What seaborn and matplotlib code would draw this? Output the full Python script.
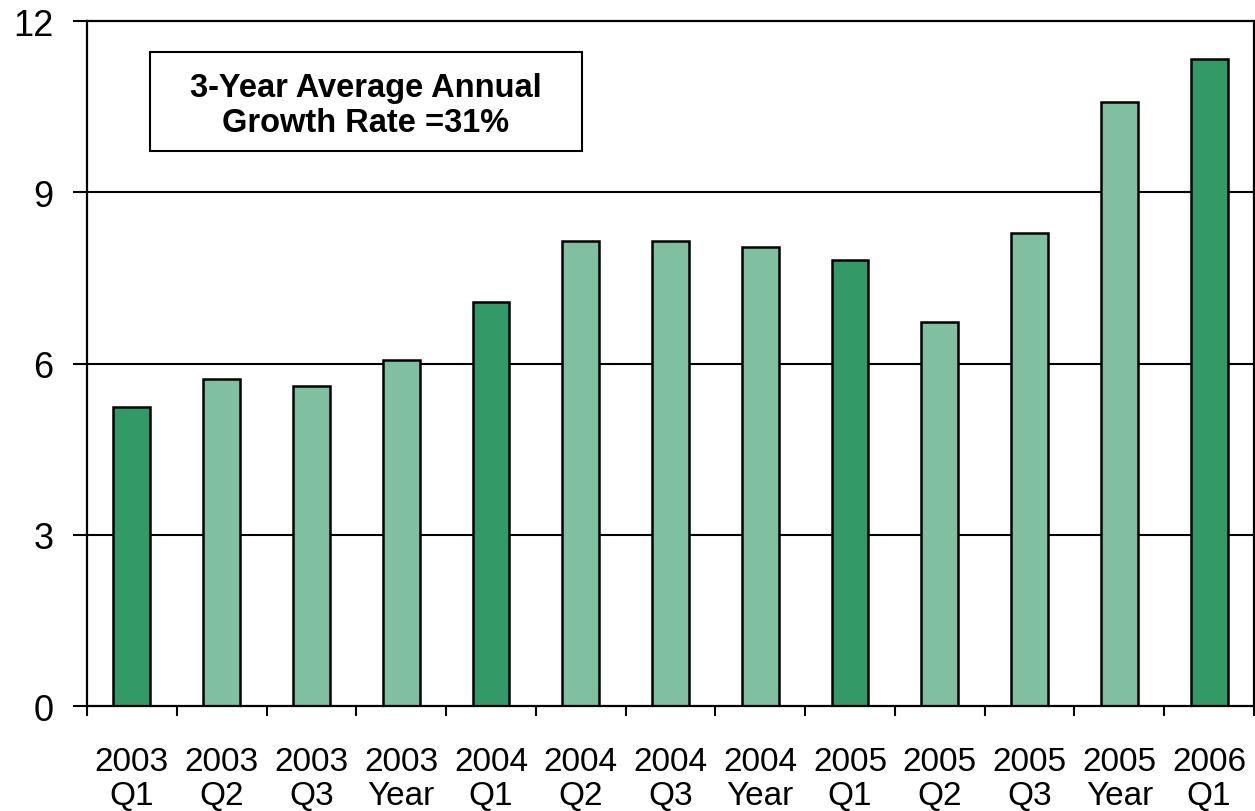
import matplotlib
matplotlib.use("Agg")
import matplotlib.pyplot as plt
from matplotlib.patches import Rectangle
import seaborn as sns
import pandas as pd
import numpy as np

# Quarterly / annual figures
periods = ["2003\nQ1", "2003\nQ2", "2003\nQ3", "2003\nYear",
           "2004\nQ1", "2004\nQ2", "2004\nQ3", "2004\nYear",
           "2005\nQ1", "2005\nQ2", "2005\nQ3", "2005\nYear",
           "2006\nQ1"]
values = [5.24, 5.73, 5.61, 6.06, 7.08, 8.15, 8.15, 8.04, 7.81, 6.73, 8.29, 10.58, 11.33]
kind = ["Q1", "other", "other", "other",
        "Q1", "other", "other", "other",
        "Q1", "other", "other", "other",
        "Q1"]
y_ticks = [0, 3, 6, 9, 12]

df = pd.DataFrame({"period": periods, "value": values, "kind": kind})

sns.set_theme(style="white")
plt.rcParams["font.family"] = ["Liberation Sans", "DejaVu Sans"]
plt.rcParams["text.color"] = "black"

fig = plt.figure(figsize=(12.55, 8.12), dpi=100)
ax = fig.add_axes([0.0693, 0.1293, 0.9299, 0.8436])

# horizontal gridlines under the bars
for yv in y_ticks[1:-1]:
    ax.axhline(yv, color="black", lw=1.5, zorder=0)

sns.barplot(data=df, x="period", y="value", hue="kind",
            palette={"Q1": "#339966", "other": "#80BF9F"}, saturation=1,
            width=0.41, dodge=False, edgecolor="black", linewidth=1.8,
            legend=False, ax=ax, zorder=2)

ax.set_xlim(-0.5, len(periods) - 0.5)
ax.set_ylim(0, 12)
ax.set_yticks(y_ticks)
ax.set_xlabel("")
ax.set_ylabel("")

for s in ax.spines.values():
    s.set_visible(True)
    s.set_color("black")
    s.set_linewidth(1.6)

ax.tick_params(axis="y", direction="out", length=10, width=1.5,
               labelsize=26, pad=14, colors="black", labelcolor="black", left=True)
ax.tick_params(axis="x", which="major", length=0, labelsize=24, pad=29,
               colors="black", labelcolor="black")
ax.set_xticks(np.arange(-0.5, len(periods), 1.0), minor=True)
ax.tick_params(axis="x", which="minor", direction="out", length=7.5,
               width=1.5, bottom=True, color="black")
for lbl in ax.get_xticklabels():
    lbl.set_linespacing(1.1)

# annotation box
ax.add_patch(Rectangle((0.054, 0.810), 0.370, 0.145, transform=ax.transAxes,
                       fc="white", ec="black", lw=1.5, zorder=5))
ax.text(0.239, 0.877, "3-Year Average Annual\nGrowth Rate =31%",
        transform=ax.transAxes, ha="center", va="center", color="black",
        fontsize=23.5, fontweight="bold", linespacing=1.15, zorder=6)

fig.savefig("out.png", dpi=100)
